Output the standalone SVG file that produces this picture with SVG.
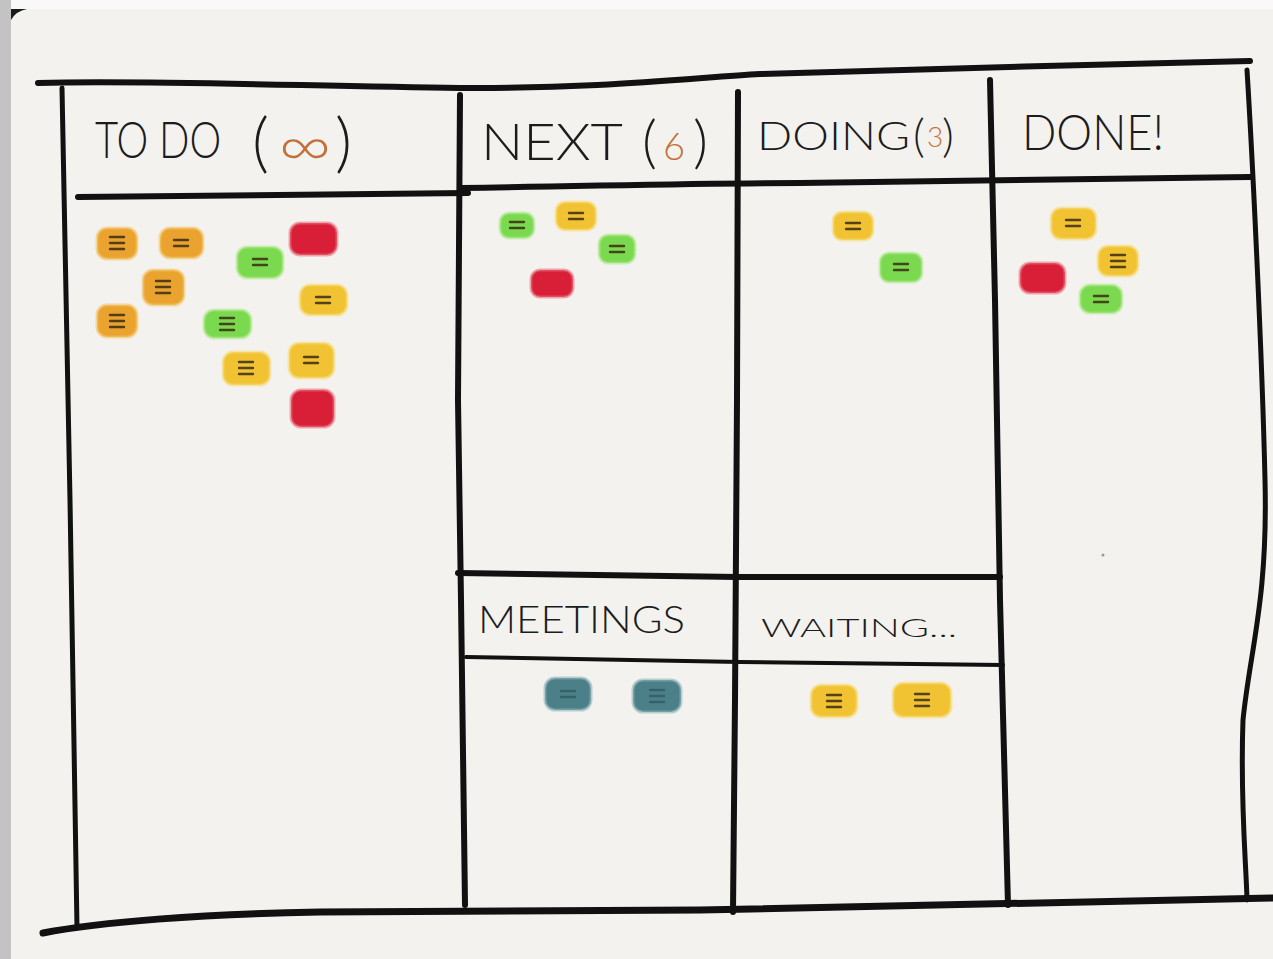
<svg xmlns="http://www.w3.org/2000/svg" width="1273" height="959" viewBox="0 0 1273 959">
<style>
.ln{fill:none;stroke:#111;stroke-linecap:round;stroke-linejoin:round}
.t{font-family:Lato,"Open Sans","Liberation Sans",sans-serif;font-weight:300;fill:#1c1c1c}
.acc{fill:#c2713a}
.note rect{stroke-width:3;stroke-opacity:.6}
.note use{fill:none;stroke:#3a2c12;stroke-width:2.4;stroke-linecap:round;opacity:.85}
.o rect{fill:#eaa32e;stroke:#f4c56a}
.y rect{fill:#f1c232;stroke:#f8dc78}
.g rect{fill:#7bd94f;stroke:#aeea8a}
.r rect{fill:#d81f37;stroke:#e8727f}
.c rect{fill:#4c8089;stroke:#8fb4ba}
.c use{stroke:#2f5a61;opacity:.8}
</style>
<defs>
<path id="m2" d="M-7,-3h14M-7,3h14"/>
<path id="m3" d="M-7,-6h14M-7,0h14M-7,6h14"/>
</defs>
<rect width="1273" height="959" fill="#f3f2ef"/>
<rect width="1273" height="9" fill="#f9f9f9"/>
<rect x="0" y="0" width="11" height="959" fill="#c3c3c3"/>
<path d="M11,9 L27,9 Q16,11 11,20 Z" fill="#1a1a1a"/>
<circle cx="1103" cy="555" r="1.5" fill="#999"/>

<g id="connectors">
<path class="ln" stroke-width="6" d="M38,83 C150,80 300,86 460,88 C600,89 700,77 760,74 C900,70 1100,64 1250,61"/>
<path class="ln" stroke-width="5" d="M62,88 L70,500 L77,928"/>
<path class="ln" stroke-width="7" d="M43,933 C100,922 200,914 320,912 L700,910 C900,905 1100,900 1273,898"/>
<path class="ln" stroke-width="6" d="M460,95 L458,400 L461,600 L465,905"/>
<path class="ln" stroke-width="6" d="M738,92 L737,400 L735,700 L733,912"/>
<path class="ln" stroke-width="6" d="M990,80 L995,300 L1000,600 L1008,905"/>
<path class="ln" stroke-width="5" d="M1247,70 C1252,150 1262,350 1265,480 C1268,600 1250,650 1243,720 C1240,800 1246,860 1247,900"/>
<path class="ln" stroke-width="6" d="M78,197 L468,193"/>
<path class="ln" stroke-width="6" d="M462,188 C600,186 700,183 800,183 L1250,177"/>
<path class="ln" stroke-width="6" d="M458,573 L738,577 L1000,577"/>
<path class="ln" stroke-width="4" d="M466,657 L740,662 L1003,665"/>
</g>

<g id="todo">
<text class="t" transform="translate(95,158) scale(0.77,1)" x="0" y="0" font-size="52">TO DO</text>
<text class="t" y="165" font-size="66"><tspan x="252">(</tspan><tspan class="acc" x="278" y="167" font-size="62" textLength="54" lengthAdjust="spacingAndGlyphs">∞</tspan><tspan x="335" y="165">)</tspan></text>
<g class="note o" transform="translate(117,243)"><rect x="-20" y="-15" width="40" height="31" rx="10"/><use href="#m3"/></g>
<g class="note o" transform="translate(181,243)"><rect x="-21" y="-15" width="43" height="30" rx="10"/><use href="#m2"/></g>
<g class="note g" transform="translate(260,262)"><rect x="-23" y="-15" width="46" height="31" rx="10"/><use href="#m2"/></g>
<g class="note r" transform="translate(313,239)"><rect x="-23" y="-16" width="47" height="32" rx="10"/></g>
<g class="note o" transform="translate(163,287)"><rect x="-20" y="-17" width="41" height="35" rx="10"/><use href="#m3"/></g>
<g class="note o" transform="translate(117,321)"><rect x="-20" y="-16" width="40" height="32" rx="10"/><use href="#m3"/></g>
<g class="note y" transform="translate(323,300)"><rect x="-23" y="-15" width="47" height="30" rx="10"/><use href="#m2"/></g>
<g class="note g" transform="translate(227,324)"><rect x="-23" y="-14" width="47" height="28" rx="10"/><use href="#m3"/></g>
<g class="note y" transform="translate(246,368)"><rect x="-23" y="-16" width="47" height="33" rx="10"/><use href="#m3"/></g>
<g class="note y" transform="translate(311,360)"><rect x="-22" y="-17" width="45" height="35" rx="10"/><use href="#m2"/></g>
<g class="note r" transform="translate(312,408)"><rect x="-21" y="-18" width="43" height="37" rx="10"/></g>
</g>

<g id="next">
<text class="t" x="481" y="160" font-size="52" textLength="142" lengthAdjust="spacingAndGlyphs">NEXT</text>
<text class="t" y="162" font-size="58"><tspan x="642">(</tspan><tspan class="acc" x="663" y="160" font-size="38">6</tspan><tspan x="693" y="162">)</tspan></text>
<g class="note g" transform="translate(517,225)"><rect x="-17" y="-12" width="34" height="25" rx="9"/><use href="#m2"/></g>
<g class="note y" transform="translate(576,216)"><rect x="-20" y="-14" width="40" height="28" rx="9"/><use href="#m2"/></g>
<g class="note g" transform="translate(617,249)"><rect x="-18" y="-14" width="36" height="28" rx="9"/><use href="#m2"/></g>
<g class="note r" transform="translate(552,283)"><rect x="-21" y="-13" width="42" height="27" rx="9"/></g>
</g>

<g id="doing">
<text class="t" x="757" y="150" font-size="40" textLength="153" lengthAdjust="spacingAndGlyphs">DOING</text>
<text class="t" y="152" font-size="46"><tspan x="913">(</tspan><tspan class="acc" x="927" y="147" font-size="28">3</tspan><tspan x="942" y="152">)</tspan></text>
<g class="note y" transform="translate(853,226)"><rect x="-20" y="-14" width="40" height="28" rx="9"/><use href="#m2"/></g>
<g class="note g" transform="translate(901,267)"><rect x="-21" y="-14" width="42" height="29" rx="9"/><use href="#m2"/></g>
</g>

<g id="done">
<text class="t" x="1022" y="150" font-size="50" textLength="142" lengthAdjust="spacingAndGlyphs">DONE!</text>
<g class="note y" transform="translate(1073,223)"><rect x="-22" y="-15" width="45" height="31" rx="10"/><use href="#m2"/></g>
<g class="note y" transform="translate(1118,261)"><rect x="-20" y="-15" width="40" height="30" rx="10"/><use href="#m3"/></g>
<g class="note r" transform="translate(1042,278)"><rect x="-22" y="-15" width="45" height="30" rx="10"/></g>
<g class="note g" transform="translate(1101,299)"><rect x="-21" y="-14" width="42" height="28" rx="10"/><use href="#m2"/></g>
</g>

<g id="meetings">
<text class="t" x="478" y="633" font-size="38" textLength="207" lengthAdjust="spacingAndGlyphs">MEETINGS</text>
<g class="note c" transform="translate(568,694)"><rect x="-23" y="-16" width="46" height="32" rx="10"/><use href="#m2"/></g>
<g class="note c" transform="translate(657,696)"><rect x="-24" y="-16" width="48" height="32" rx="10"/><use href="#m3"/></g>
</g>

<g id="waiting">
<text class="t" x="761" y="637" font-size="26" textLength="196" lengthAdjust="spacingAndGlyphs">WAITING...</text>
<g class="note y" transform="translate(834,701)"><rect x="-23" y="-16" width="46" height="32" rx="10"/><use href="#m3"/></g>
<g class="note y" transform="translate(922,700)"><rect x="-29" y="-17" width="58" height="34" rx="10"/><use href="#m3"/></g>
</g>
</svg>
